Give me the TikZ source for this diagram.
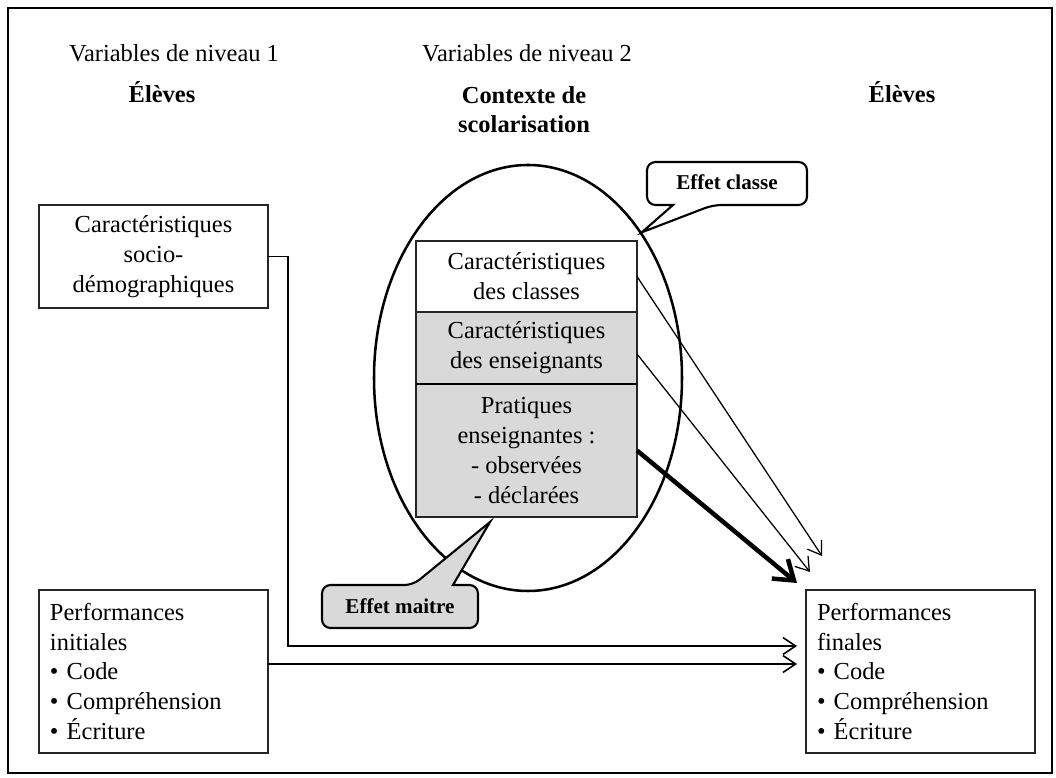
\documentclass[tikz,border=0pt]{standalone}
\usepackage{fontspec}
\setmainfont{Liberation Serif}
\usetikzlibrary{positioning,shapes.geometric,arrows.meta}

\tikzset{
  txt/.style={font=\fontsize{17.4}{21.3}\selectfont},
  head/.style={font=\fontsize{17.4}{21.3}\selectfont\bfseries},
  bulle/.style={font=\fontsize{15}{18}\selectfont\bfseries},
  box/.style={txt, draw=black!85, line width=1.1pt, minimum width=5.725cm,
              inner sep=0pt, outer sep=0pt, align=center},
  ctxbox/.style={box, minimum width=5.525cm},
  conn/.style={line width=1.1pt, shorten >=0.225cm,
               -{Straight Barb[length=9pt,width=12pt]}},
  fleche/.style={line width=0.9pt, -{Straight Barb[length=9pt,width=12pt]}},
  callout/.style={line width=1.5pt, rounded corners=6pt},
}

\begin{document}
\begin{tikzpicture}
\useasboundingbox (0,0) rectangle (26.4,19.45);
\draw[line width=1.1pt] (0.2,0.125) rectangle (26.3,19.25);

%--- en-tetes -------------------------------------
\node[txt,anchor=base] (niv1) at (4.35,17.9) {Variables de niveau 1};
\node[txt,anchor=base] (niv2) at (13.175,17.9) {Variables de niveau 2};
\node[head,anchor=base] (eleves1) at (4.05,16.875) {Élèves};
\node[head,anchor=base,align=center] (contexte) at (13.1,16.125) {Contexte de\\scolarisation};
\node[head,anchor=base] (eleves2) at (22.55,16.875) {Élèves};

%--- contexte de scolarisation ---------------------
\node[draw, ellipse, line width=1.8pt, minimum width=7.7cm, minimum height=10.65cm,
      inner sep=0pt] (ovale) at (13.2,10) {};

\node[ctxbox, minimum height=1.775cm, fill=white] (classes) at (13.1625,12.5375)
     {Caractéristiques\\des classes};
\node[ctxbox, minimum height=1.8cm, fill=gray!30, below=0pt of classes] (ens)
     {Caractéristiques\\des enseignants};
\node[ctxbox, minimum height=3.325cm, fill=gray!30, below=0pt of ens] (prat)
     {Pratiques\\enseignantes :\\- observées\\- déclarées};
\draw[line width=1.8pt] (prat.north west) -- (prat.north east);

%--- eleves ----------------------------------------
\node[box, minimum height=2.575cm] (socio) at (3.8375,13.0375)
     {Caractéristiques\\socio-\\démographiques};
\node[box, minimum height=4.075cm, text width=5.175cm, align=left] (init) at (3.8375,2.6625)
     {Performances\\initiales\\• Code\\• Compréhension\\• Écriture};
\node[box, minimum height=4.075cm, text width=5.175cm, align=left] (fin) at (23.0125,2.6625)
     {Performances\\finales\\• Code\\• Compréhension\\• Écriture};

%--- fleches ---------------------------------------
\draw[conn] (socio.east) -- ++(0.5,0) |- ([yshift=0.6375cm]fin.west);
\draw[conn] ([yshift=0.1875cm]init.east) -- ([yshift=0.1875cm]fin.west);

\draw[fleche] (classes.east) -- ([xshift=0.4cm,yshift=0.85cm]fin.north west);
\draw[fleche] ([yshift=-0.15cm]ens.east) -- ([xshift=0.1cm,yshift=0.45cm]fin.north west);
\draw[line width=3.2pt, -{Straight Barb[length=13pt,width=18pt]}]
     (prat.east) -- ([xshift=-0.225cm,yshift=0.175cm]fin.north west);

%--- bulles ----------------------------------------
\draw[callout] (16.175,14.8) -- (16.175,15.4) -- (20.175,15.4) -- (20.175,14.325)
     -- (17.825,14.325) {[sharp corners] -- (ovale.52) -- (16.825,14.325)}
     -- (16.175,14.325) -- cycle;
\node[bulle] (eclasse) at (18.175,14.8875) {Effet classe};

\draw[callout, fill=gray!30] (8.05,4.3) -- (8.05,4.825) -- (10.325,4.825)
     {[sharp corners] -- (12.25,6.4) -- (11.325,4.825)} -- (11.95,4.825)
     -- (11.95,3.75) -- (8.05,3.75) -- cycle;
\node[bulle] (emaitre) at (10,4.2875) {Effet maitre};
\end{tikzpicture}
\end{document}
